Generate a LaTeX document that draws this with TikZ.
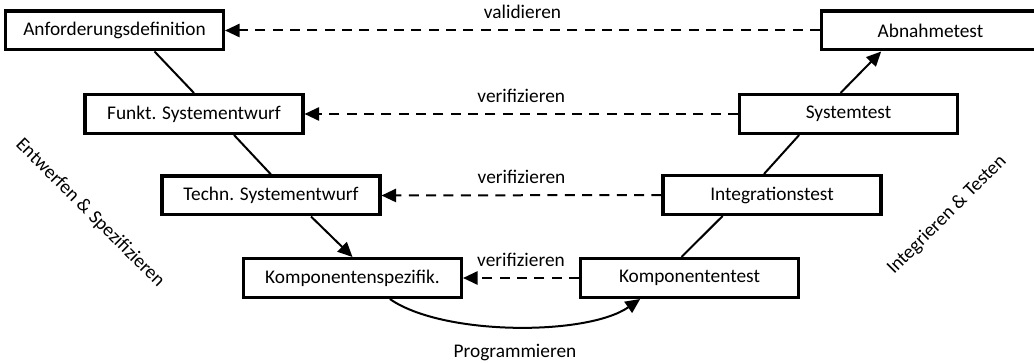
\documentclass[tikz,border=0pt]{standalone}
\usepackage{fontspec}
\setmainfont{Carlito}
\usetikzlibrary{arrows.meta}

\begin{document}
\begin{tikzpicture}[x=0.75pt,y=-0.75pt,
  phase/.style={draw=black,line width=2.3pt,fill=white,minimum width=163.5pt,minimum height=29.2pt,inner sep=0pt,font=\fontsize{14.5}{17}\selectfont},
  link/.style={line width=1.5pt},
  tip/.style={-{Triangle[length=11pt,width=10pt]}},
  check/.style={line width=1.5pt,dash pattern=on 7.5pt off 5.5pt,tip},
  lbl/.style={font=\fontsize{14.5}{17}\selectfont,inner sep=0pt}]

% Keep the size of the original picture
\useasboundingbox (0,0) rectangle (1034,363);

% Left branch of the V
\node[phase] (anf) at (114.5,30.5) {Anforderungsdefinition};
\node[phase] (funkt) at (194,114) {Funkt. Systementwurf};
\node[phase] (techn) at (271,195.5) {Techn. Systementwurf};
\node[phase] (kspez) at (352.5,278) {Komponentenspezifik.};

% Right branch of the V
\node[phase] (ktest) at (689.5,278) {Komponententest};
\node[phase] (integ) at (772,195) {Integrationstest};
\node[phase] (sys) at (848.5,114) {Systemtest};
\node[phase] (abn) at (930.5,30.5) {Abnahmetest};

% Going down
\draw[link] ([xshift=30pt]anf.south) -- (funkt.north);
\draw[link] ([xshift=30pt]funkt.south) -- (techn.north);
\draw[link,tip] ([xshift=30pt]techn.south) -- (kspez.north);

% Programming at the bottom
\draw[link,tip] ([xshift=28pt]kspez.south) .. controls +(53,37) and +(-53,37) .. ([xshift=-37pt]ktest.south)
  node[lbl,midway,below=12pt] {Programmieren};

% Going up
\draw[link] ([xshift=-6pt]ktest.north) -- ([xshift=-37pt]integ.south);
\draw[link] ([xshift=-6pt]integ.north) -- ([xshift=-37pt]sys.south);
\draw[link,tip] ([xshift=-6pt]sys.north) -- ([xshift=-37pt]abn.south);

% Checks from right to left
\foreach \l/\r/\what in {anf/abn/validieren, funkt/sys/verifizieren, techn/integ/verifizieren, kspez/ktest/verifizieren} {
    \draw[check] (\r.west) -- (\l.east) node[lbl,midway,above=8pt] {\what};
}

% Names of the two branches
\node[lbl,rotate=-45] (entw) at (90,213) {Entwerfen \& Spezifizieren};
\node[lbl,rotate=45] (intg) at (947,215) {Integrieren \& Testen};

\end{tikzpicture}
\end{document}
